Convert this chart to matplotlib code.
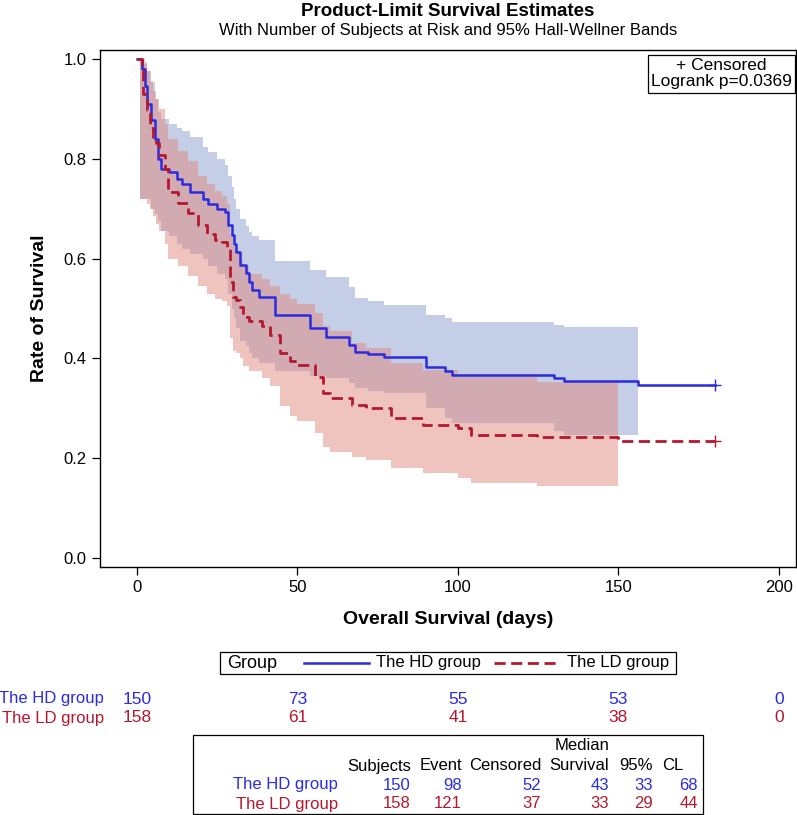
import matplotlib
matplotlib.use("Agg")
import matplotlib.pyplot as plt
import matplotlib.transforms as mtransforms
from matplotlib.patches import Rectangle
from matplotlib.lines import Line2D

plt.rcParams['font.family'] = ['Liberation Sans', 'DejaVu Sans']

# ---- data ----
groups = ["The HD group", "The LD group"]

hd_t = [0, 1.5, 2.5, 3, 4.5, 5.5, 6.5, 7.5, 10, 12.5, 14, 16.5, 20.5, 22, 25, 27.5,
        28.5, 29.5, 30.2, 31, 32, 34, 35, 36, 38, 43, 54, 59, 66, 68, 72, 77, 90, 96, 98,
        130, 133, 156, 180]
hd_s = [1.0, 0.98, 0.945, 0.91, 0.877, 0.84, 0.80, 0.78, 0.774, 0.76, 0.75, 0.734, 0.72, 0.71, 0.70, 0.693,
        0.667, 0.647, 0.63, 0.613, 0.587, 0.571, 0.553, 0.537, 0.523, 0.487, 0.461, 0.443, 0.427, 0.413, 0.409,
        0.403, 0.383, 0.375, 0.367, 0.36, 0.355, 0.347, 0.347]

hd_bt = [1, 2.5, 3, 4.5, 5.5, 6.5, 7.5, 10, 12.5, 14, 16.5, 20.5, 22, 25, 27.5, 28.5,
         29.5, 30.2, 31, 32, 34, 35, 36, 38, 43, 54, 59, 66, 68, 72, 77, 90,
         96, 98, 130, 133, 156]
hd_up = [1.0, 0.994, 0.975, 0.954, 0.92, 0.894, 0.88, 0.87, 0.862, 0.855, 0.844, 0.824, 0.814, 0.80, 0.788, 0.765,
         0.744, 0.72, 0.70, 0.68, 0.665, 0.653, 0.645, 0.637, 0.595, 0.577, 0.563, 0.543, 0.521, 0.515, 0.507, 0.487,
         0.48, 0.473, 0.467, 0.463, 0.463]
hd_lo = [0.72, 0.72, 0.72, 0.70, 0.69, 0.675, 0.655, 0.645, 0.63, 0.62, 0.61, 0.60, 0.585, 0.57, 0.56, 0.53,
         0.50, 0.48, 0.46, 0.435, 0.425, 0.41, 0.40, 0.39, 0.375, 0.365, 0.36, 0.35, 0.34, 0.335, 0.33, 0.30,
         0.28, 0.27, 0.255, 0.246, 0.246]

ld_t = [0, 1.5, 2, 3, 4, 5, 6, 7, 8.7, 9.7, 12.8, 16, 19, 21.7, 24.3, 26.4,
        28, 29, 30, 31, 32, 33, 35, 39, 41.5, 44.5, 47.7, 50, 55.5, 58, 60, 67,
        71.5, 79, 89, 100, 104, 124.6, 150, 180]
ld_s = [1.0, 0.978, 0.93, 0.898, 0.862, 0.844, 0.832, 0.808, 0.78, 0.733, 0.711, 0.691, 0.667, 0.65, 0.637, 0.633,
        0.623, 0.553, 0.523, 0.517, 0.503, 0.483, 0.475, 0.465, 0.447, 0.41, 0.395, 0.387, 0.362, 0.33, 0.321, 0.307,
        0.30, 0.28, 0.267, 0.26, 0.246, 0.242, 0.234, 0.234]

ld_bt = [1, 2, 3, 4, 5, 6, 7, 8.7, 9.7, 12.8, 16, 19, 21.7, 24.3, 26.4, 28,
         29, 30, 31, 32, 33, 35, 39, 41.5, 44.5, 47.7, 50, 55.5, 58, 60, 67, 71.5,
         79, 89, 100, 104, 124.6, 150]
ld_up = [1.0, 0.99, 0.975, 0.955, 0.935, 0.92, 0.90, 0.87, 0.84, 0.815, 0.795, 0.765, 0.75, 0.735, 0.725, 0.71,
         0.65, 0.625, 0.615, 0.60, 0.585, 0.57, 0.56, 0.545, 0.53, 0.52, 0.51, 0.49, 0.465, 0.455, 0.43, 0.42,
         0.39, 0.377, 0.363, 0.363, 0.353, 0.353]
ld_lo = [0.72, 0.72, 0.71, 0.70, 0.685, 0.67, 0.655, 0.63, 0.60, 0.585, 0.565, 0.545, 0.53, 0.52, 0.515, 0.505,
         0.44, 0.415, 0.41, 0.40, 0.385, 0.375, 0.36, 0.345, 0.305, 0.285, 0.275, 0.25, 0.223, 0.213, 0.203, 0.196,
         0.18, 0.17, 0.16, 0.15, 0.144, 0.144]

cens_t = [180, 180]
cens_s = [0.347, 0.234]

risk_t = [0, 50, 100, 150, 200]
hd_risk = [150, 73, 55, 53, 0]
ld_risk = [158, 61, 41, 38, 0]

tab_cols = ["Subjects", "Event", "Censored", "Survival", "95%", "CL"]
hd_stats = [150, 98, 52, 43, 33, 68]
ld_stats = [158, 121, 37, 33, 29, 44]

BLUE = '#2B2BDF'
RED = '#B5182E'
BLUE_BAND = '#8BA1D1'
RED_BAND = '#E1897F'

W, H = 797, 815
def fx(p):
    return p / W
def fy(p):
    return 1 - p / H

fig = plt.figure(figsize=(W / 100, H / 100), dpi=100)
ax = fig.add_axes([fx(100), fy(567), 696 / W, 517 / H])

# bands
ax.fill_between(hd_bt, hd_lo, hd_up, step='post', color=BLUE_BAND, alpha=0.5, lw=0)
ax.fill_between(ld_bt, ld_lo, ld_up, step='post', color=RED_BAND, alpha=0.5, lw=0)

# survival curves
ax.step(hd_t, hd_s, where='post', color=BLUE, lw=1.8)
ax.step(ld_t, ld_s, where='post', color=RED, lw=2.0, dashes=(4, 2))
ax.plot(cens_t[0], cens_s[0], marker='+', ms=9, mew=1.0, color=BLUE)
ax.plot(cens_t[1], cens_s[1], marker='+', ms=9, mew=1.0, color=RED)

ax.set_xlim(-11.5, 205.3)
ax.set_ylim(-0.018, 1.018)
ax.set_xticks(risk_t)
ax.set_yticks([0, 0.2, 0.4, 0.6, 0.8, 1.0])
ax.set_yticklabels(["0.0", "0.2", "0.4", "0.6", "0.8", "1.0"])
ax.tick_params(labelsize=12, length=6, width=0.9, direction='out')
for s in ax.spines.values():
    s.set_linewidth(1.0)

# titles and axis labels
fig.text(fx(448), fy(12), "Product-Limit Survival Estimates", ha='center', va='center',
         fontsize=13.5, fontweight='bold')
fig.text(fx(448), fy(31), "With Number of Subjects at Risk and 95% Hall-Wellner Bands",
         ha='center', va='center', fontsize=12)
fig.text(fx(448), fy(619), "Overall Survival (days)", ha='center', va='center',
         fontsize=14, fontweight='bold')
fig.text(fx(40), fy(308), "Rate of Survival", ha='center', va='center', rotation=90,
         fontsize=14, fontweight='bold')

# censored / logrank box
ax.text(0.893, 0.984, "+ Censored\nLogrank p=0.0369", transform=ax.transAxes, ha='center', va='top',
        fontsize=12.5, linespacing=1.1,
        bbox=dict(boxstyle='square,pad=0.2', fc='white', ec='black', lw=0.9))

# legend
fig.add_artist(Rectangle((fx(220), fy(674)), (676 - 220) / W, 22 / H, transform=fig.transFigure,
                         fill=False, ec='black', lw=0.9))
fig.text(fx(227), fy(663), "Group", ha='left', va='center', fontsize=13)
fig.add_artist(Line2D([fx(304), fx(369)], [fy(663), fy(663)], transform=fig.transFigure, color=BLUE, lw=1.8))
fig.text(fx(376), fy(663), groups[0], ha='left', va='center', fontsize=12)
fig.add_artist(Line2D([fx(494), fx(559)], [fy(663), fy(663)], transform=fig.transFigure, color=RED, lw=2.0,
                      dashes=(4, 2)))
fig.text(fx(567), fy(663), groups[1], ha='left', va='center', fontsize=12)

# number at risk
tr = mtransforms.blended_transform_factory(ax.transData, fig.transFigure)
for name, vals, col, yy in [(groups[0], hd_risk, BLUE, 699), (groups[1], ld_risk, RED, 718)]:
    fig.text(fx(104), fy(yy), name, ha='right', va='center', fontsize=12, color=col)
    for t, v in zip(risk_t, vals):
        ax.text(t, fy(yy), str(v), transform=tr, ha='center', va='center', fontsize=12.5, color=col,
                clip_on=False)

# summary table
fig.add_artist(Rectangle((fx(193), fy(814)), (703 - 193) / W, 79 / H, transform=fig.transFigure,
                         fill=False, ec='black', lw=0.9))
col_right = [411, 462, 541, 609, 653, 698]
head_right = [411, 462, 541, 609, 653, 683]
fig.text(fx(609), fy(746), "Median", ha='right', va='center', fontsize=12)
for c, x in zip(tab_cols, head_right):
    fig.text(fx(x), fy(766), c, ha='right', va='center', fontsize=12)
for name, vals, col, yy in [(groups[0], hd_stats, BLUE, 785), (groups[1], ld_stats, RED, 804)]:
    fig.text(fx(338), fy(yy), name, ha='right', va='center', fontsize=12, color=col)
    for v, x in zip(vals, col_right):
        fig.text(fx(x), fy(yy), str(v), ha='right', va='center', fontsize=12, color=col)

fig.savefig("out.png", dpi=100)
